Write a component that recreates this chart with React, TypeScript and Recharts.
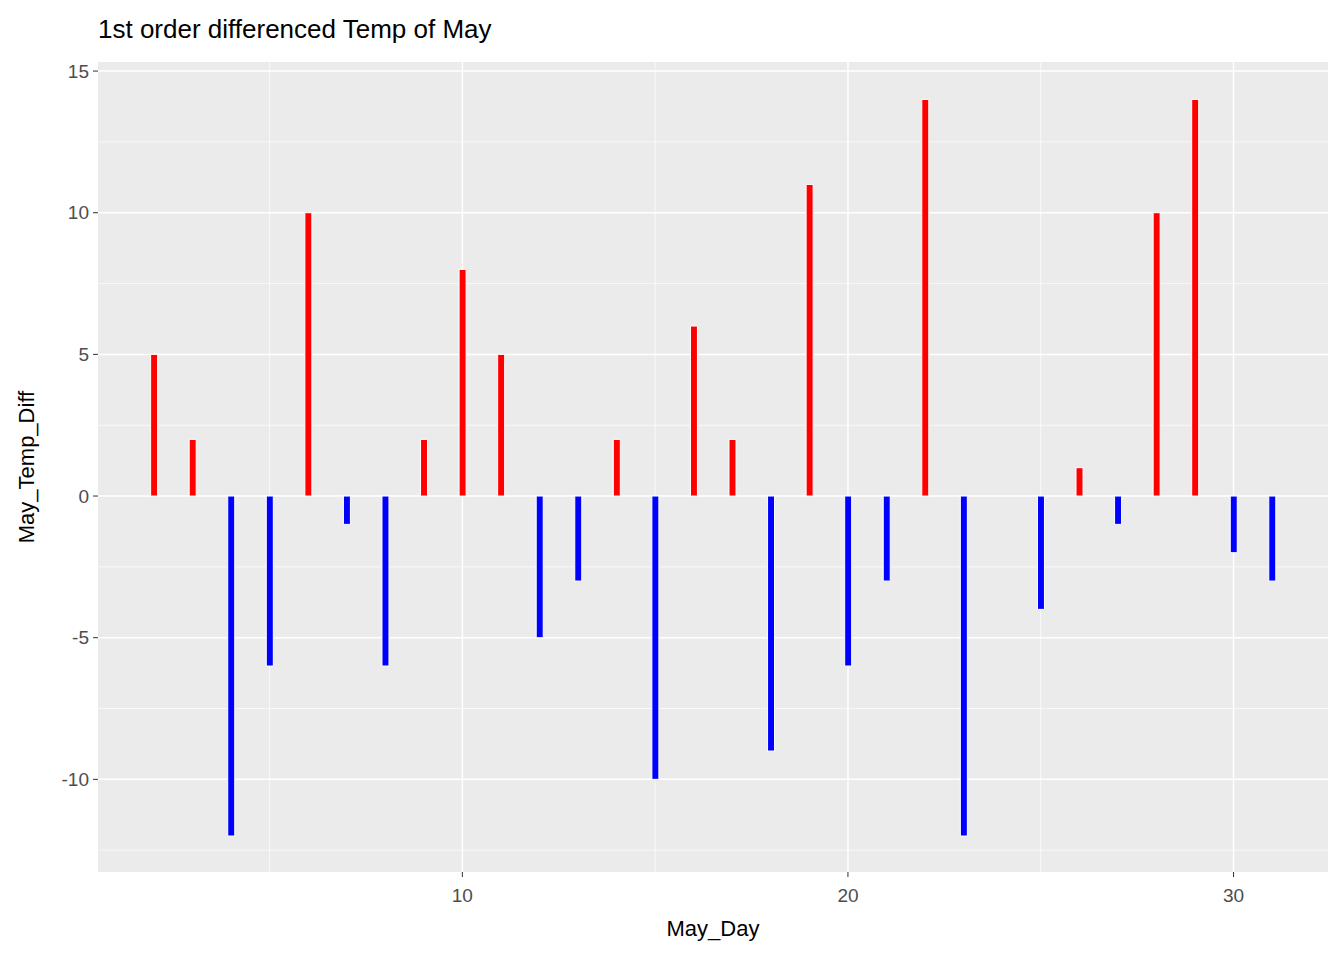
import React from 'react';
import { ComposedChart, Bar, Cell, XAxis, YAxis, CartesianGrid } from 'recharts';

// May day and first-order differenced temperature
const days = [2, 3, 4, 5, 6, 7, 8, 9, 10, 11, 12, 13, 14, 15, 16, 17, 18, 19, 20, 21, 22, 23, 24, 25, 26, 27, 28, 29, 30, 31];
const diffs = [5, 2, -12, -6, 10, -1, -6, 2, 8, 5, -5, -3, 2, -10, 6, 2, -9, 11, -6, -3, 14, -12, 0, -4, 1, -1, 10, 14, -2, -3];
const xTicks = [10, 20, 30];
const yTicks = [-10, -5, 0, 5, 10, 15];
const xMinor = [5, 15, 25];
const yMinor = [-12.5, -7.5, -2.5, 2.5, 7.5, 12.5];

const data = days.map((d, i) => ({ day: d, diff: diffs[i] }));

const font = '"Liberation Sans", Arial, sans-serif';

export default function App() {
  return (
    <div style={{ position: 'absolute', left: 0, top: 0, width: 1344, height: 960, background: '#fff', fontFamily: font }}>
      <div style={{ position: 'absolute', left: 98, top: 14, fontSize: 26, color: '#000' }}>1st order differenced Temp of May</div>
      <div style={{ position: 'absolute', left: 0, width: 1426, top: 916, textAlign: 'center', fontSize: 22, color: '#000' }}>May_Day</div>
      <div style={{ position: 'absolute', left: 27, top: 467, fontSize: 22, color: '#000', transform: 'translate(-50%, -50%) rotate(-90deg)', whiteSpace: 'nowrap' }}>May_Temp_Diff</div>
      <ComposedChart width={1344} height={960} data={data} margin={{ top: 62, right: 16, bottom: 0, left: 0 }}>
        <CartesianGrid fill="#EBEBEB" fillOpacity={1} stroke="#fff" strokeWidth={0.7}
          verticalValues={xMinor} horizontalValues={yMinor} />
        <CartesianGrid stroke="#fff" strokeWidth={1.5} verticalValues={xTicks} horizontalValues={yTicks} />
        <XAxis type="number" dataKey="day" domain={[0.55, 32.45]} ticks={xTicks} height={88}
          axisLine={false} tickLine={{ stroke: '#333' }} tickSize={5} tickMargin={6}
          tick={{ fill: '#4D4D4D', fontSize: 19, fontFamily: font, dy: 6 }} />
        <YAxis type="number" domain={[-13.27, 15.32]} ticks={yTicks} width={98}
          axisLine={false} tickLine={{ stroke: '#333' }} tickSize={5} tickMargin={4}
          tick={{ fill: '#4D4D4D', fontSize: 19, fontFamily: font }} />
        <Bar dataKey="diff" barSize={7} stroke="#fff" strokeWidth={1} isAnimationActive={false}>
          {data.map((d, i) => <Cell key={i} fill={d.diff >= 0 ? '#FF0000' : '#0000FF'} />)}
        </Bar>
      </ComposedChart>
    </div>
  );
}
